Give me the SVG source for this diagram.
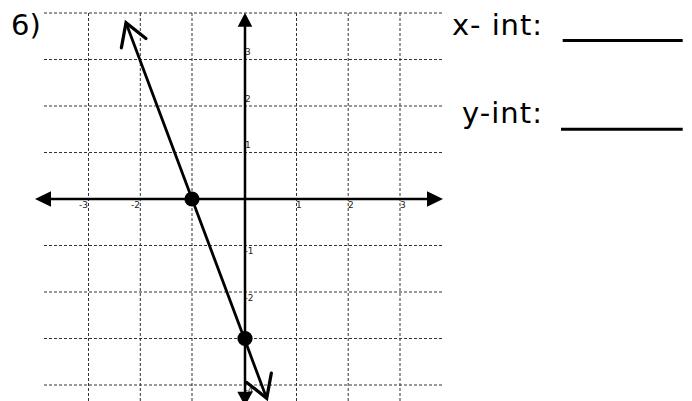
<svg xmlns="http://www.w3.org/2000/svg" width="692" height="401" viewBox="0 0 692 401">
<style>
.grid line{stroke:#333;stroke-width:1;stroke-dasharray:3 2;}
.axis{stroke:#000;stroke-width:2.5;fill:none;}
.big{font-family:"DejaVu Sans","Verdana",sans-serif;font-size:29px;fill:#000;}
.tick{font-family:"DejaVu Sans","Liberation Sans",sans-serif;font-size:9px;fill:#222;}
</style>
<defs>
<marker id="open" markerUnits="userSpaceOnUse" markerWidth="30" markerHeight="30" viewBox="-20 -12 22 24" refX="0" refY="0" orient="auto-start-reverse" overflow="visible">
<path d="M-17.5 -10.5 L0 0 L-17.5 10.5" fill="none" stroke="#000" stroke-width="2.6" stroke-linecap="round" stroke-linejoin="miter"/>
</marker>
</defs>
<rect width="692" height="401" fill="#fff"/>
<g id="grid" class="grid">
<line x1="44" y1="13" x2="443" y2="13"/>
<line x1="44" y1="59.5" x2="443" y2="59.5"/>
<line x1="44" y1="106" x2="443" y2="106"/>
<line x1="44" y1="152.5" x2="443" y2="152.5"/>
<line x1="44" y1="245.5" x2="443" y2="245.5"/>
<line x1="44" y1="292" x2="443" y2="292"/>
<line x1="44" y1="338.5" x2="443" y2="338.5"/>
<line x1="44" y1="385" x2="443" y2="385"/>
<line x1="88.5" y1="13" x2="88.5" y2="401"/>
<line x1="140.3" y1="13" x2="140.3" y2="401"/>
<line x1="192" y1="13" x2="192" y2="401"/>
<line x1="296.5" y1="13" x2="296.5" y2="401"/>
<line x1="348.2" y1="13" x2="348.2" y2="401"/>
<line x1="400" y1="13" x2="400" y2="401"/>
</g>
<g id="tick-labels" class="tick">
<text x="88" y="207.5" text-anchor="end">-3</text>
<text x="140" y="207.5" text-anchor="end">-2</text>
<text x="296" y="207.5">1</text>
<text x="348" y="207.5">2</text>
<text x="400" y="207.5">3</text>
<text x="245" y="55">3</text>
<text x="245" y="102">2</text>
<text x="245" y="148">1</text>
<text x="244.5" y="254">-1</text>
<text x="244.5" y="300.5">-2</text>
<text x="244.5" y="393">-4</text>
</g>
<g id="axes">
<line class="axis" x1="48" y1="199" x2="430" y2="199"/>
<line class="axis" x1="245" y1="24" x2="245" y2="394"/>
<polygon points="35,199 51,191.3 51,206.7" fill="#000"/>
<polygon points="443,199 427,191.3 427,206.7" fill="#000"/>
<polygon points="245,12.7 237.7,26.7 252.3,26.7" fill="#000"/>
<polygon points="245,406 237.3,391.7 252.7,391.7" fill="#000"/>
</g>
<g id="connectors">
<line x1="126" y1="22.7" x2="266.7" y2="398.3" stroke="#000" stroke-width="2.8" marker-start="url(#open)" marker-end="url(#open)"/>
</g>
<g id="x-intercept"><circle cx="192" cy="199" r="7.6" fill="#000"/></g>
<g id="y-intercept"><circle cx="245" cy="338.5" r="7.6" fill="#000"/></g>
<g id="labels">
<text class="big" x="11" y="35">6)</text>
<text class="big" x="452" y="35" textLength="90" lengthAdjust="spacing">x- int:</text>
<text class="big" x="462" y="123.3" textLength="80" lengthAdjust="spacing">y-int:</text>
<line x1="562.7" y1="40.5" x2="682.7" y2="40.5" stroke="#000" stroke-width="3"/>
<line x1="561" y1="129.2" x2="682.7" y2="129.2" stroke="#000" stroke-width="3"/>
</g>
</svg>
